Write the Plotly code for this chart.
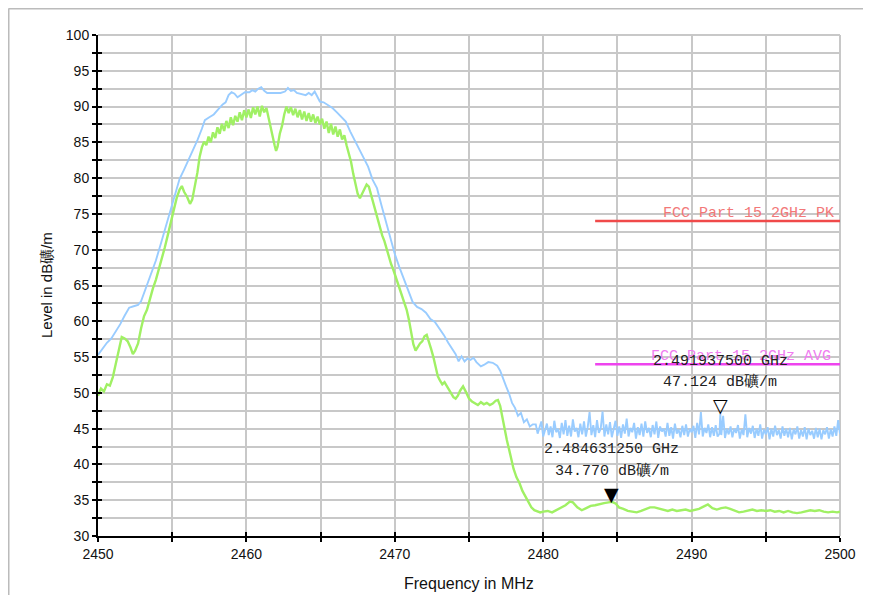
import plotly.graph_objects as go

# ---------------- data ----------------
pk_freq = [2450.0, 2450.3, 2450.6, 2450.9, 2451.2, 2451.5, 2451.8, 2452.1, 2452.4, 2452.7,
           2452.9, 2453.1, 2453.4, 2453.7, 2453.9, 2454.2, 2454.5, 2454.8, 2455.0, 2455.3,
           2455.5, 2455.8, 2456.1, 2456.4, 2456.7, 2457.0, 2457.2, 2457.5, 2457.8, 2458.1,
           2458.4, 2458.6, 2458.8, 2459.0, 2459.2, 2459.4, 2459.6, 2459.9, 2460.2, 2460.4,
           2460.6, 2460.8, 2461.0, 2461.2, 2461.4, 2461.7, 2462.0, 2462.3, 2462.6, 2462.8,
           2463.0, 2463.2, 2463.4, 2463.7, 2464.0, 2464.2, 2464.4, 2464.6, 2464.8, 2464.95,
           2465.2, 2465.5, 2465.8, 2466.1, 2466.4, 2466.7, 2467.0, 2467.3, 2467.6, 2467.9,
           2468.2, 2468.5, 2468.8, 2469.1, 2469.4, 2469.7, 2470.0, 2470.3, 2470.6, 2470.9,
           2471.2, 2471.5, 2471.8, 2472.1, 2472.4, 2472.7, 2473.0, 2473.3, 2473.6, 2473.9,
           2474.1, 2474.3, 2474.5, 2474.7, 2474.9, 2475.1, 2475.3, 2475.5, 2475.8, 2476.0,
           2476.3, 2476.6, 2476.9, 2477.1, 2477.3, 2477.5, 2477.7, 2477.9, 2478.1, 2478.3,
           2478.5, 2478.7, 2478.9, 2479.1, 2479.3,
           2479.5, 2479.625, 2479.75, 2479.875, 2480.0, 2480.125, 2480.25, 2480.375,
           2480.5, 2480.625, 2480.75, 2480.875, 2481.0, 2481.125, 2481.25, 2481.375,
           2481.5, 2481.625, 2481.75, 2481.875, 2482.0, 2482.125, 2482.25, 2482.375,
           2482.5, 2482.625, 2482.75, 2482.875, 2483.0, 2483.125, 2483.25, 2483.375,
           2483.5, 2483.625, 2483.75, 2483.875, 2484.0, 2484.125, 2484.25, 2484.375,
           2484.5, 2484.625, 2484.75, 2484.875, 2485.0, 2485.125, 2485.25, 2485.375,
           2485.5, 2485.625, 2485.75, 2485.875, 2486.0, 2486.125, 2486.25, 2486.375,
           2486.5, 2486.625, 2486.75, 2486.875, 2487.0, 2487.125, 2487.25, 2487.375,
           2487.5, 2487.625, 2487.75, 2487.875, 2488.0, 2488.125, 2488.25, 2488.375,
           2488.5, 2488.625, 2488.75, 2488.875, 2489.0, 2489.125, 2489.25, 2489.375,
           2489.5, 2489.625, 2489.75, 2489.875, 2490.0, 2490.125, 2490.25, 2490.375,
           2490.5, 2490.625, 2490.75, 2490.875, 2491.0, 2491.125, 2491.25, 2491.375,
           2491.5, 2491.625, 2491.75, 2491.875, 2491.9375, 2492.0, 2492.125, 2492.25, 2492.375,
           2492.5, 2492.625, 2492.75, 2492.875, 2493.0, 2493.125, 2493.25, 2493.375,
           2493.5, 2493.625, 2493.75, 2493.875, 2494.0, 2494.125, 2494.25, 2494.375,
           2494.5, 2494.625, 2494.75, 2494.875, 2495.0, 2495.125, 2495.25, 2495.375,
           2495.5, 2495.625, 2495.75, 2495.875, 2496.0, 2496.125, 2496.25, 2496.375,
           2496.5, 2496.625, 2496.75, 2496.875, 2497.0, 2497.125, 2497.25, 2497.375,
           2497.5, 2497.625, 2497.75, 2497.875, 2498.0, 2498.125, 2498.25, 2498.375,
           2498.5, 2498.625, 2498.75, 2498.875, 2499.0, 2499.125, 2499.25, 2499.375,
           2499.5, 2499.625, 2499.75, 2499.875, 2500.0]
pk_level = [55.3, 56.2, 57.0, 57.6, 58.6, 59.6, 60.8, 61.9, 62.1, 62.3,
            62.8, 63.9, 65.8, 67.4, 68.5, 70.6, 72.8, 74.8, 76.2, 78.3,
            79.9, 81.2, 82.6, 83.8, 85.3, 86.9, 88.1, 88.5, 88.9, 89.6,
            90.3, 90.6, 91.6, 92.0, 91.8, 91.3, 91.6, 92.0, 92.0, 92.3,
            92.1, 92.5, 92.7, 92.2, 91.9, 91.9, 91.8, 91.9, 92.1, 92.6,
            92.2, 92.3, 91.9, 91.8, 91.6, 91.9, 91.6, 92.1, 91.4, 90.7,
            90.6, 90.2, 89.8, 89.2, 88.6, 87.9, 86.5, 85.3, 84.0, 82.9,
            81.6, 79.8, 78.6, 76.2, 73.8, 71.4, 69.4, 67.6, 66.0, 64.2,
            62.7, 62.0, 61.7, 61.2, 60.3, 59.9, 59.0, 58.1, 57.0, 56.1,
            55.4, 54.4, 55.1, 54.4, 54.8, 54.6, 54.9, 54.3, 53.7, 53.9,
            54.3, 54.2, 53.8, 53.1, 51.9, 50.9, 49.9, 48.6, 47.9, 46.8,
            47.2, 45.9, 46.3, 45.3, 45.6,
            45.6, 44.3, 45.1, 46.0, 43.9, 44.8, 45.7, 44.1,
            45.3, 43.8, 46.1, 44.5, 45.0, 43.7, 45.8, 44.2,
            46.2, 44.0, 45.4, 43.9, 46.3, 44.6, 45.1, 43.8,
            45.7, 44.2, 46.0, 43.9, 45.2, 47.3, 44.1, 45.5,
            43.8, 46.2, 44.4, 45.0, 47.4, 43.9, 45.6, 44.2,
            45.9, 43.8, 44.9, 46.1, 44.0, 45.3, 43.7, 45.6,
            44.3, 46.4, 43.9, 45.1, 44.5, 45.8, 43.6, 45.2,
            44.1, 45.7, 43.9, 46.0, 44.4, 45.1, 43.8, 45.5,
            44.2, 46.0, 43.7, 45.3, 44.6, 45.0, 43.9, 45.8,
            44.0, 45.2, 43.6, 45.7, 44.3, 44.9, 43.8, 45.4,
            44.1, 45.6, 43.9, 45.0, 44.5, 45.4, 43.7, 45.8,
            44.2, 47.3, 43.9, 45.1, 44.4, 45.6, 43.8, 45.2,
            44.0, 45.5, 43.9, 44.3, 47.12, 44.1, 46.8, 43.7, 45.0,
            44.2, 45.3, 43.8, 45.0, 44.4, 45.5, 43.6, 44.9,
            44.1, 47.0, 43.8, 45.1, 44.3, 45.4, 43.7, 45.0,
            44.0, 45.6, 43.6, 44.9, 44.2, 45.2, 43.5, 45.0,
            43.9, 45.4, 44.1, 44.8, 43.6, 45.3, 44.0, 45.0,
            43.8, 45.1, 43.5, 44.9, 44.2, 45.3, 43.6, 44.8,
            43.9, 45.2, 43.5, 45.0, 44.1, 44.7, 43.6, 45.1,
            43.8, 45.0, 43.5, 44.8, 44.2, 45.2, 43.6, 44.9,
            43.9, 45.3, 44.0, 46.2, 44.3]

av_freq = [2450.0, 2450.2, 2450.4, 2450.6, 2450.8, 2451.0, 2451.15, 2451.3, 2451.45, 2451.6,
           2451.8, 2452.0, 2452.2, 2452.35, 2452.5, 2452.7, 2452.9, 2453.1, 2453.3, 2453.5,
           2453.7, 2453.9, 2454.1, 2454.3, 2454.5, 2454.7, 2454.9, 2455.1, 2455.3, 2455.5,
           2455.65, 2455.8, 2456.0, 2456.2, 2456.35, 2456.5, 2456.7, 2456.85, 2457.0, 2457.15,
           2457.3, 2457.45, 2457.6, 2457.75, 2457.9, 2458.05, 2458.2, 2458.35, 2458.5, 2458.65,
           2458.8, 2458.95, 2459.1, 2459.25, 2459.4, 2459.55, 2459.7, 2459.85, 2460.0, 2460.15,
           2460.3, 2460.45, 2460.6, 2460.75, 2460.9, 2461.05, 2461.2, 2461.35, 2461.5, 2461.6,
           2461.75, 2461.9, 2462.0, 2462.1, 2462.25, 2462.4, 2462.55, 2462.7, 2462.85, 2463.0,
           2463.15, 2463.3, 2463.45, 2463.6, 2463.75, 2463.9, 2464.05, 2464.2, 2464.35, 2464.5,
           2464.65, 2464.8, 2464.95, 2465.1, 2465.25, 2465.4, 2465.55, 2465.7, 2465.85, 2466.0,
           2466.15, 2466.3, 2466.45, 2466.6, 2466.75, 2466.9, 2467.05, 2467.2, 2467.35, 2467.5,
           2467.65, 2467.8, 2467.95, 2468.1, 2468.25, 2468.4, 2468.55, 2468.7, 2468.85, 2469.0,
           2469.15, 2469.3, 2469.45, 2469.6, 2469.75, 2469.9, 2470.05, 2470.2, 2470.35, 2470.5,
           2470.65, 2470.8, 2470.95, 2471.1, 2471.25, 2471.4, 2471.55, 2471.7, 2471.85, 2472.0,
           2472.15, 2472.3, 2472.45, 2472.6, 2472.75, 2472.9, 2473.05, 2473.2, 2473.35, 2473.5,
           2473.65, 2473.8, 2473.95, 2474.1, 2474.25, 2474.4, 2474.6, 2474.8, 2475.0, 2475.2,
           2475.4, 2475.6, 2475.8, 2476.0, 2476.2, 2476.4, 2476.6, 2476.8, 2476.95, 2477.1,
           2477.25, 2477.4, 2477.55, 2477.7, 2477.85, 2478.0, 2478.2, 2478.4, 2478.6, 2478.8,
           2479.0, 2479.2, 2479.4, 2479.6, 2479.8, 2480.0, 2480.3, 2480.6, 2480.9, 2481.2,
           2481.5, 2481.8, 2482.0, 2482.3, 2482.6, 2482.9, 2483.2, 2483.5, 2483.8, 2484.1,
           2484.4, 2484.63, 2484.9, 2485.1, 2485.4, 2485.7, 2486.0, 2486.3, 2486.6, 2486.9,
           2487.2, 2487.5, 2487.8, 2488.1, 2488.4, 2488.7, 2489.0, 2489.3, 2489.6, 2489.9,
           2490.2, 2490.5, 2490.8, 2491.1, 2491.4, 2491.7, 2492.0, 2492.3, 2492.6, 2492.9,
           2493.2, 2493.5, 2493.8, 2494.1, 2494.4, 2494.7, 2495.0, 2495.3, 2495.6, 2495.9,
           2496.2, 2496.5, 2496.8, 2497.1, 2497.4, 2497.7, 2498.0, 2498.3, 2498.6, 2498.9,
           2499.2, 2499.5, 2499.8, 2500.0]
av_level = [49.6, 50.6, 50.2, 51.2, 51.0, 52.2, 53.6, 55.0, 56.6, 57.8,
            57.6, 57.2, 56.3, 55.4, 55.9, 56.9, 59.0, 60.7, 61.6, 63.2,
            64.6, 65.8, 67.2, 68.9, 70.3, 72.0, 73.9, 75.5, 77.2, 78.4,
            78.9, 78.1, 77.4, 76.4, 77.0, 78.6, 80.8, 83.0, 84.3, 85.1,
            84.6, 85.8, 85.0, 86.4, 85.6, 87.1, 86.2, 87.6, 86.6, 88.0,
            87.0, 88.5, 87.4, 88.7, 87.9, 89.2, 88.1, 89.5, 88.5, 89.6,
            88.4, 89.9, 88.9, 90.0, 88.6, 90.1, 89.2, 89.8, 88.4, 87.0,
            85.9, 84.6, 83.8, 84.4, 86.2, 87.3, 88.9, 90.0, 89.1, 89.9,
            88.8, 89.7, 88.5, 89.5, 88.2, 89.3, 88.0, 89.1, 87.9, 88.9,
            87.7, 88.6, 87.5, 88.3, 86.9, 87.9, 86.3, 87.6, 86.1, 87.2,
            85.8, 86.8, 85.4, 86.0, 84.6, 83.6, 82.3, 80.6, 79.2, 77.8,
            77.2, 77.9, 78.6, 79.1, 78.8, 77.6, 76.5, 75.3, 74.0, 73.0,
            72.0, 71.2, 70.0, 69.1, 68.0, 67.2, 66.3, 65.2, 64.4, 63.5,
            62.4, 61.6, 60.2, 58.6, 56.8, 55.9, 56.4, 56.9, 57.2, 57.9,
            58.1, 57.2, 56.1, 55.0, 53.6, 52.3, 51.7, 51.2, 51.5, 51.0,
            50.5, 49.9, 49.4, 49.2, 49.6, 50.3, 50.9, 50.1, 49.2, 48.8,
            48.6, 48.3, 48.7, 48.4, 48.6, 48.3, 48.5, 48.9, 49.0, 48.2,
            46.6, 44.8, 43.4, 42.1, 40.8, 39.4, 38.2, 37.4, 36.3, 35.5,
            34.8, 34.0, 33.6, 33.5, 33.3, 33.4, 33.5, 33.3, 33.6, 34.0,
            34.3, 34.8, 34.7, 34.0, 33.6, 33.9, 34.2, 34.3, 34.5, 34.6,
            34.7, 34.77, 34.5, 34.0, 33.8, 33.5, 33.4, 33.3, 33.5, 33.8,
            34.0, 34.0, 33.8, 33.6, 33.5, 33.7, 33.5, 33.6, 33.7, 33.5,
            33.6, 33.8, 34.1, 34.4, 33.9, 33.7, 33.9, 34.0, 33.8, 33.5,
            33.3, 33.4, 33.5, 33.7, 33.5, 33.6, 33.5, 33.6, 33.4, 33.5,
            33.3, 33.5, 33.3, 33.2, 33.3, 33.5, 33.6, 33.5, 33.6, 33.4,
            33.3, 33.4, 33.3, 33.4]

limit_freq = [2483.5, 2500.0]
limit_pk = [74.0, 74.0]
limit_avg = [54.0, 54.0]
limit_names = ["FCC Part 15 2GHz PK", "FCC Part 15 2GHz AVG"]

mk_freq = [2484.63125, 2491.9375]
mk_level = [34.770, 47.124]
mk_freq_text = ["2.484631250 GHz", "2.491937500 GHz"]
mk_level_text = ["34.770 dB礦/m", "47.124 dB礦/m"]
mk_symbol = ["▼", "▽"]

x_ticks = [2450, 2455, 2460, 2465, 2470, 2475, 2480, 2485, 2490, 2495, 2500]
x_ticklabels = ["2450", "", "2460", "", "2470", "", "2480", "", "2490", "", "2500"]
y_ticks = [30, 32.5, 35, 37.5, 40, 42.5, 45, 47.5, 50, 52.5, 55, 57.5, 60, 62.5, 65, 67.5,
           70, 72.5, 75, 77.5, 80, 82.5, 85, 87.5, 90, 92.5, 95, 97.5, 100]
y_ticklabels = ["30", "", "35", "", "40", "", "45", "", "50", "", "55", "", "60", "", "65", "",
                "70", "", "75", "", "80", "", "85", "", "90", "", "95", "", "100"]

# ---------------- figure ----------------
fig = go.Figure()
fig.add_trace(go.Scatter(x=pk_freq, y=pk_level, mode="lines",
                         line=dict(color="#99CCFF", width=1.9), showlegend=False))
fig.add_trace(go.Scatter(x=av_freq, y=av_level, mode="lines",
                         line=dict(color="#A0F064", width=2.4), showlegend=False))
fig.add_trace(go.Scatter(x=limit_freq, y=limit_pk, mode="lines", xaxis="x2", yaxis="y2",
                         line=dict(color="#F04A4A", width=2.5), showlegend=False))
fig.add_trace(go.Scatter(x=limit_freq, y=limit_avg, mode="lines", xaxis="x2", yaxis="y2",
                         line=dict(color="#EE44EE", width=2.5), showlegend=False))

grid = "#C8C8C8"
axis_font = dict(family="Liberation Sans, Arial, sans-serif", size=14, color="#111")
fig.update_layout(
    width=863, height=587,
    margin=dict(l=90, r=31, t=27, b=59),
    paper_bgcolor="white", plot_bgcolor="white",
    xaxis=dict(range=[2450, 2500], tickmode="array", tickvals=x_ticks, ticktext=x_ticklabels,
               showgrid=True, gridcolor=grid, gridwidth=1.8, zeroline=False,
               showline=True, linecolor="black", linewidth=2,
               ticks="outside", ticklen=4, tickwidth=2, tickcolor="black",
               tickfont=axis_font),
    yaxis=dict(range=[30, 100], tickmode="array", tickvals=y_ticks, ticktext=y_ticklabels,
               showgrid=True, gridcolor=grid, gridwidth=1.8, zeroline=False,
               showline=True, linecolor="black", linewidth=2,
               ticks="outside", ticklen=4, tickwidth=2, tickcolor="black",
               tickfont=axis_font),
    xaxis2=dict(range=[2450, 2500], overlaying="x", anchor="y2", tickmode="array",
                tickvals=x_ticks, showticklabels=False, showgrid=False, zeroline=False,
                ticks="inside", ticklen=4, tickwidth=2, tickcolor="black", side="bottom"),
    yaxis2=dict(range=[30, 100], overlaying="y", anchor="x2", tickmode="array",
                tickvals=y_ticks, showticklabels=False, showgrid=False, zeroline=False,
                ticks="inside", ticklen=4, tickwidth=2, tickcolor="black", side="left"),
)

# plot border (top/right) and outer frame
fig.add_shape(type="line", xref="paper", yref="paper", x0=0, x1=1, y0=1, y1=1,
              line=dict(color=grid, width=2), layer="below")
fig.add_shape(type="line", xref="paper", yref="paper", x0=1, x1=1, y0=0, y1=1,
              line=dict(color=grid, width=2), layer="below")
fig.add_shape(type="line", xref="paper", yref="paper", x0=-0.1206, x1=-0.1206, y0=-0.2, y1=1.0529,
              line=dict(color="#BBBBBB", width=2))
fig.add_shape(type="line", xref="paper", yref="paper", x0=-0.1206, x1=1.1, y0=1.0529, y1=1.0529,
              line=dict(color="#BBBBBB", width=2))

# axis titles
title_font = dict(family="Liberation Sans, Arial, sans-serif", size=16, color="#111")
fig.add_annotation(text="Frequency in MHz", xref="paper", yref="paper", x=0.5, y=-0.094,
                   xanchor="center", yanchor="middle", showarrow=False, font=title_font)
fig.add_annotation(text="Level in dB礦/m", xref="paper", yref="paper", x=-0.0687, y=0.501,
                   xanchor="center", yanchor="middle", textangle=-90, showarrow=False,
                   font=dict(family="Liberation Sans, Arial, sans-serif", size=15, color="#111"))

# limit labels
mono = "Liberation Mono, Courier New, monospace"
fig.add_annotation(text=limit_names[0], x=limit_freq[1], y=limit_pk[0], xanchor="right",
                   yanchor="bottom", xshift=-4, yshift=-3, showarrow=False,
                   font=dict(family=mono, size=15, color="#F27878"))
fig.add_annotation(text=limit_names[1], x=limit_freq[1], y=limit_avg[0], xanchor="right",
                   yanchor="bottom", xshift=-7, yshift=-3, showarrow=False,
                   font=dict(family=mono, size=15, color="#F07CF0"))

# markers
for i in range(len(mk_freq)):
    fig.add_annotation(text=mk_symbol[i], x=mk_freq[i], y=mk_level[i], xanchor="center",
                       yanchor="middle", yshift=8, showarrow=False,
                       font=dict(family="DejaVu Sans", size=19, color="black"))
    fig.add_annotation(text=mk_freq_text[i], x=mk_freq[i], y=mk_level[i], xanchor="center",
                       yanchor="middle", yshift=52, showarrow=False,
                       font=dict(family=mono, size=15, color="#222"))
    fig.add_annotation(text=mk_level_text[i], x=mk_freq[i], y=mk_level[i], xanchor="center",
                       yanchor="middle", yshift=31, showarrow=False,
                       font=dict(family=mono, size=15, color="#222"))

fig.write_html("out.html")
